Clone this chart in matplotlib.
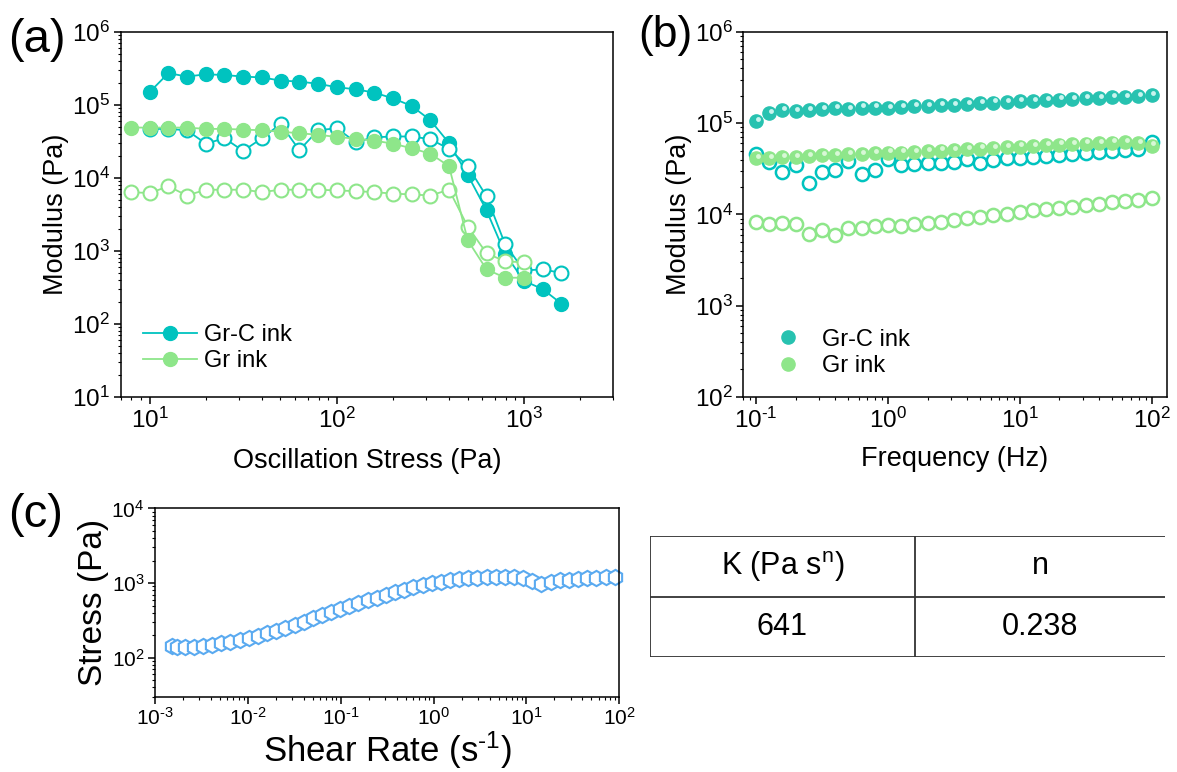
import matplotlib
matplotlib.use("Agg")
import matplotlib.pyplot as plt
import matplotlib.transforms as mtransforms
from matplotlib.ticker import LogLocator, NullFormatter, FuncFormatter
import numpy as np

plt.rcParams['font.family'] = ['Liberation Sans', 'DejaVu Sans']
plt.rcParams['mathtext.fontset'] = 'custom'
plt.rcParams['mathtext.rm'] = 'Liberation Sans'
plt.rcParams['mathtext.it'] = 'Liberation Sans'
plt.rcParams['mathtext.default'] = 'regular'
plt.rcParams['axes.unicode_minus'] = False

teal = '#00c3bf'
green = '#8ee68a'
sphere_teal = '#27c2b0'
hexblue = '#5aaaf0'

# (a) amplitude sweep
stress_grc = [10, 12.6, 15.8, 20, 25.1, 31.6, 39.8, 50.1, 63.1, 79.4, 100, 126, 158,
              200, 251, 316, 398, 501, 631, 794, 1000, 1259, 1585]
gp_grc = [1.5e5, 2.73e5, 2.45e5, 2.63e5, 2.57e5, 2.45e5, 2.38e5, 2.16e5, 2.09e5, 1.95e5,
          1.75e5, 1.64e5, 1.48e5, 1.23e5, 9.7e4, 6.2e4, 3.0e4, 1.1e4, 3.6e3, 9.1e2,
          3.9e2, 3.0e2, 1.9e2]
gpp_grc = [4.7e4, 4.7e4, 4.5e4, 2.95e4, 3.5e4, 2.35e4, 3.5e4, 5.5e4, 2.4e4, 4.5e4,
           4.8e4, 3.1e4, 3.6e4, 3.7e4, 3.7e4, 3.4e4, 2.5e4, 1.45e4, 5.6e3, 1.23e3,
           5.4e2, 5.6e2, 5.0e2]
stress_gr = [7.94, 10, 12.6, 15.8, 20, 25.1, 31.6, 39.8, 50.1, 63.1, 79.4, 100, 126, 158,
             200, 251, 316, 398, 501, 631, 794, 1000]
gp_gr = [4.9e4, 4.9e4, 4.9e4, 4.9e4, 4.7e4, 4.7e4, 4.6e4, 4.5e4, 4.3e4, 4.1e4, 3.9e4,
         3.65e4, 3.45e4, 3.25e4, 2.95e4, 2.55e4, 2.15e4, 1.45e4, 1.4e3, 5.6e2, 4.3e2, 4.3e2]
gpp_gr = [6.4e3, 6.2e3, 7.7e3, 5.75e3, 6.9e3, 6.9e3, 6.9e3, 6.4e3, 6.9e3, 6.9e3, 6.9e3,
          6.75e3, 6.6e3, 6.4e3, 6.1e3, 5.95e3, 5.75e3, 6.9e3, 2.16e3, 9.3e2, 7.2e2, 7.0e2]

# (b) frequency sweep
freq = [0.1, 0.126, 0.158, 0.2, 0.251, 0.316, 0.398, 0.501, 0.631, 0.794, 1, 1.26, 1.58,
        2, 2.51, 3.16, 3.98, 5.01, 6.31, 7.94, 10, 12.6, 15.8, 20, 25.1, 31.6, 39.8, 50.1,
        63.1, 79.4, 100]
gp_grc_f = [1.05e5, 1.29e5, 1.38e5, 1.36e5, 1.40e5, 1.43e5, 1.45e5, 1.42e5, 1.48e5, 1.48e5,
            1.45e5, 1.50e5, 1.53e5, 1.54e5, 1.57e5, 1.59e5, 1.63e5, 1.66e5, 1.68e5, 1.71e5,
            1.75e5, 1.76e5, 1.79e5, 1.81e5, 1.85e5, 1.87e5, 1.90e5, 1.94e5, 1.94e5, 1.99e5,
            2.04e5]
gpp_grc_f = [4.59e4, 3.72e4, 2.93e4, 3.47e4, 2.23e4, 2.93e4, 3.06e4, 3.87e4, 2.81e4, 3.06e4,
             4.04e4, 3.50e4, 3.56e4, 3.62e4, 3.68e4, 3.72e4, 4.04e4, 3.62e4, 3.94e4, 4.15e4,
             4.15e4, 4.22e4, 4.36e4, 4.48e4, 4.59e4, 4.67e4, 4.79e4, 4.91e4, 5.08e4, 5.21e4,
             6.17e4]
gp_gr_f = [4.15e4, 4.15e4, 4.22e4, 4.29e4, 4.40e4, 4.48e4, 4.51e4, 4.59e4, 4.59e4, 4.67e4,
           4.75e4, 4.75e4, 4.83e4, 4.91e4, 5.00e4, 5.08e4, 5.17e4, 5.26e4, 5.35e4, 5.44e4,
           5.53e4, 5.62e4, 5.72e4, 5.82e4, 5.92e4, 5.97e4, 6.07e4, 6.12e4, 6.17e4, 6.07e4,
           5.68e4]
gpp_gr_f = [8.30e3, 7.96e3, 8.09e3, 7.96e3, 6.17e3, 6.83e3, 6.01e3, 7.02e3, 7.13e3, 7.43e3,
            7.63e3, 7.43e3, 7.77e3, 8.02e3, 8.37e3, 8.66e3, 9.04e3, 9.43e3, 9.84e3, 1.02e4,
            1.06e4, 1.11e4, 1.14e4, 1.19e4, 1.22e4, 1.27e4, 1.31e4, 1.36e4, 1.40e4, 1.45e4,
            1.53e4]

# (c) flow curve
shear_rate = [1.51e-3, 1.71e-3, 2.09e-3, 2.62e-3, 3.29e-3, 4.12e-3, 5.18e-3, 6.49e-3, 8.15e-3,
              1.022e-2, 1.28e-2, 1.61e-2, 2.02e-2, 2.53e-2, 3.18e-2, 3.99e-2, 5.00e-2, 6.27e-2,
              7.87e-2, 9.87e-2, 0.124, 0.155, 0.195, 0.245, 0.307, 0.385, 0.483, 0.606,
              0.760, 0.954, 1.197, 1.50, 1.88, 2.36, 2.96, 3.72, 4.67, 5.85, 7.35, 9.21,
              11.6, 14.5, 18.2, 22.8, 28.6, 35.9, 45.1, 56.6, 71.0, 89.0]
shear_stress = [143, 138, 138, 141, 143, 148, 156, 163, 173, 184, 198, 213, 231, 251, 275,
                302, 335, 368, 403, 447, 491, 538, 584, 635, 690, 749, 813, 874, 930, 990,
                1043, 1087, 1132, 1156, 1180, 1191, 1204, 1217, 1204, 1156, 1053, 979, 1043,
                1087, 1097, 1132, 1156, 1180, 1191, 1217]

table_header = ['K (Pa s$^{n}$)', 'n']
table_values = ['641', '0.238']


def pow10(v, pos):
    e = int(round(np.log10(v)))
    if e < 0:
        return '$10^{\u2010 %d}$' % (-e)
    return '$10^{%d}$' % e


fig = plt.figure(figsize=(11.77, 7.72), dpi=100)
ax_a = fig.add_axes([0.1025, 0.4858, 0.4185, 0.4728])
ax_b = fig.add_axes([0.6315, 0.4858, 0.3597, 0.4728])
ax_c = fig.add_axes([0.1317, 0.0975, 0.3945, 0.244])


def style_log(ax, fs):
    ax.set_xscale('log')
    ax.set_yscale('log')
    for a in (ax.xaxis, ax.yaxis):
        a.set_major_locator(LogLocator(base=10, numticks=20))
        a.set_major_formatter(FuncFormatter(pow10))
        a.set_minor_locator(LogLocator(base=10, subs=range(2, 10), numticks=20))
        a.set_minor_formatter(NullFormatter())
    ax.tick_params(which='major', direction='out', length=5, width=1.1, labelsize=fs,
                   top=False, right=False, pad=2.5)
    ax.tick_params(which='minor', direction='out', length=2.5, width=0.8,
                   top=False, right=False)
    for s in ax.spines.values():
        s.set_linewidth(1.1)


# panel a
style_log(ax_a, 17.5)
ax_a.plot(stress_grc, gp_grc, '-o', color=teal, lw=1.3, ms=10, mec=teal, mfc=teal,
          label='Gr-C ink', zorder=3)
ax_a.plot(stress_grc, gpp_grc, '-o', color=teal, lw=1.3, ms=10, mec=teal, mfc='white',
          mew=1.5, zorder=4)
ax_a.plot(stress_gr, gpp_gr, '-o', color=green, lw=1.3, ms=10, mec=green, mfc='white',
          mew=1.5, zorder=4)
ax_a.plot(stress_gr, gp_gr, '-o', color=green, lw=1.3, ms=10, mec=green, mfc=green,
          label='Gr ink', zorder=5)
ax_a.set_xlim(7.0, 3000)
ax_a.set_ylim(10, 1e6)
ax_a.set_xlabel('Oscillation Stress (Pa)', fontsize=19.5, labelpad=11)
ax_a.set_ylabel('Modulus (Pa)', fontsize=19.5, labelpad=2)
ax_a.legend(loc='lower left', bbox_to_anchor=(0.045, 0.068), frameon=False, fontsize=17,
            borderpad=0, borderaxespad=0, handlelength=2.3, handletextpad=0.3,
            labelspacing=0.18)

# panel b
style_log(ax_b, 17.5)
hl = mtransforms.offset_copy(ax_b.transData, fig=fig, x=1.2, y=1.6, units='points')
ax_b.plot(freq, gpp_grc_f, 'o', ms=9.5, mec=teal, mfc='white', mew=1.8, ls='none', zorder=3)
ax_b.plot(freq, gp_gr_f, 'o', ms=9.5, mec=green, mfc=green, ls='none', label='Gr ink', zorder=4)
ax_b.plot(freq, gp_gr_f, 'o', ms=3.5, mec='none', mfc='#d8f8d6', ls='none', transform=hl,
          zorder=4)
ax_b.plot(freq, gpp_gr_f, 'o', ms=9.5, mec=green, mfc='white', mew=1.8, ls='none', zorder=3)
ax_b.plot(freq, gp_grc_f, 'o', ms=9.5, mec=sphere_teal, mfc=sphere_teal, ls='none',
          label='Gr-C ink', zorder=4)
ax_b.plot(freq, gp_grc_f, 'o', ms=3.5, mec='none', mfc='#c8f4ee', ls='none', transform=hl,
          zorder=4)
ax_b.set_xlim(0.08, 130)
ax_b.set_ylim(100, 1e6)
ax_b.set_xlabel('Frequency (Hz)', fontsize=19.5, labelpad=10)
ax_b.set_ylabel('Modulus (Pa)', fontsize=19.5, labelpad=2)
h, l = ax_b.get_legend_handles_labels()
ax_b.legend([h[1], h[0]], [l[1], l[0]], loc='lower left', bbox_to_anchor=(0.063, 0.055),
            frameon=False, fontsize=17, borderpad=0, borderaxespad=0, handlelength=1.5,
            handletextpad=0.7, labelspacing=0.18)

# panel c
style_log(ax_c, 15)
ax_c.plot(shear_rate, shear_stress, 'h', ms=11, mec=hexblue, mfc='white', mew=1.5,
          ls='none', clip_on=False)
ax_c.set_xlim(1e-3, 100)
ax_c.set_ylim(30, 1e4)
ax_c.set_yticks([1e2, 1e3, 1e4])
ax_c.set_xlabel('Shear Rate (s$^{\u2010 1}$)', fontsize=25, labelpad=0)
ax_c.set_ylabel('Stress (Pa)', fontsize=24, labelpad=2)

# table
ax_t = fig.add_axes([650 / 1177, (772 - 657) / 772, 515 / 1177, 121 / 772])
ax_t.set_axis_off()
ax_t.set_xlim(0, 1)
ax_t.set_ylim(0, 1)
split = 265 / 515
for yv in (0, 0.5, 1):
    ax_t.plot([0, 1], [yv, yv], color='#333333', lw=1.3)
for xv in (0, split):
    ax_t.plot([xv, xv], [0, 1], color='#333333', lw=1.3)
ax_t.text(split / 2, 0.75, table_header[0], ha='center', va='center', fontsize=22)
ax_t.text((split + 1) / 2, 0.75, table_header[1], ha='center', va='center', fontsize=22)
ax_t.text(split / 2, 0.25, table_values[0], ha='center', va='center', fontsize=22)
ax_t.text((split + 1) / 2, 0.25, table_values[1], ha='center', va='center', fontsize=22)

# panel labels
fig.text(8 / 1177, 1 - 40 / 772, '(a)', fontsize=34, va='center')
fig.text(638 / 1177, 1 - 36 / 772, '(b)', fontsize=32, va='center')
fig.text(8 / 1177, 1 - 515 / 772, '(c)', fontsize=34, va='center')

fig.savefig('out.png', dpi=100)
